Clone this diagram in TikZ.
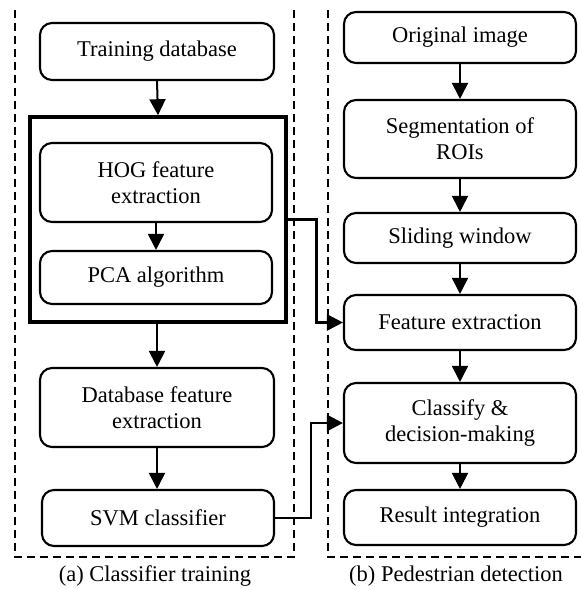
\documentclass[tikz,border=0pt]{standalone}
\usepackage{fontspec}
\setmainfont{Liberation Serif}
\usetikzlibrary{arrows.meta}
\begin{document}
\begin{tikzpicture}[x=1pt,y=-1pt,
  box/.style={draw, line width=2.1pt, rounded corners=12pt, align=center, inner sep=0pt,
    font=\fontsize{22.5}{26}\selectfont},
  grpbox/.style={draw, line width=3.6pt, inner sep=0pt},
  conn/.style={line width=2pt, -{Triangle[width=16pt,length=16pt]}},
  link/.style={line width=2.8pt, -{Triangle[width=16pt,length=16pt]}},
  frame/.style={line width=2.2pt, dash pattern=on 8pt off 5pt},
  captext/.style={font=\fontsize{22.5}{26}\selectfont}]
\useasboundingbox (0,0) rectangle (581,590);
% frames
\draw[frame] (15,10) -- (15,557) -- (294,557) -- (294,10);
\draw[frame] (328,10) -- (328,557) -- (590,557);
% left column
\node[box, minimum width=234pt, minimum height=57pt] (train) at (157,51.5) {Training database};
\node[grpbox, minimum width=256pt, minimum height=205pt] (grp) at (158,219.5) {};
\node[box, minimum width=232pt, minimum height=79pt] (hog) at (156,182.5) {HOG feature\\extraction};
\node[box, minimum width=232pt, minimum height=53pt] (pca) at (156,277.5) {PCA algorithm};
\node[box, minimum width=234pt, minimum height=79pt] (db) at (157,407.5) {Database feature\\extraction};
\node[box, minimum width=232pt, minimum height=56pt] (svm) at (158,518) {SVM classifier};
% right column
\node[box, minimum width=232pt, minimum height=51pt] (orig) at (460,37.5) {Original image};
\node[box, minimum width=232pt, minimum height=78pt] (seg) at (460,139) {Segmentation of\\ROIs};
\node[box, minimum width=232pt, minimum height=50pt] (slide) at (460,238) {Sliding window};
\node[box, minimum width=232pt, minimum height=55pt] (feat) at (460,322.5) {Feature extraction};
\node[box, minimum width=232pt, minimum height=80pt] (cls) at (460,423) {Classify \&\\decision-making};
\node[box, minimum width=232pt, minimum height=55pt] (res) at (460,517.5) {Result integration};
% captions
\node[captext] (capa) at (155,576) {(a) Classifier training};
\node[captext] (capb) at (456,576) {(b) Pedestrian detection};
% arrows
\draw[conn] (train.south) -- (grp.north);
\draw[conn] (hog.south) -- (pca.north);
\draw[conn] (grp.south -| db.north) -- (db.north);
\draw[conn] (db.south) -- (svm.north -| db.south);
\draw[conn] (orig) -- (seg);
\draw[conn] (seg) -- (slide);
\draw[conn] (slide) -- (feat);
\draw[conn] (feat) -- (cls);
\draw[conn] (cls) -- (res);
\draw[link] (grp.east) -- ++(29,0) |- (feat.west);
\draw[link] (svm.east) -- ++(36,0) |- (cls.west);
\end{tikzpicture}
\end{document}
